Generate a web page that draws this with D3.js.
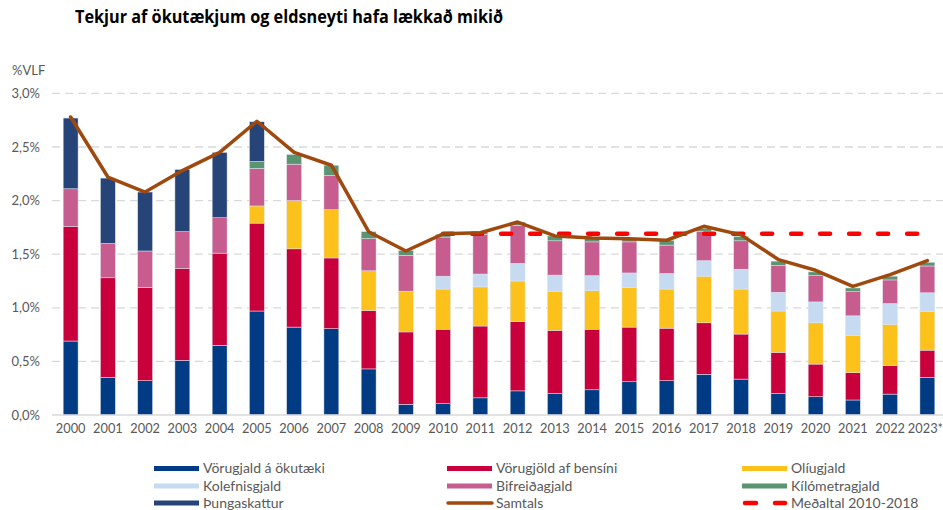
<!DOCTYPE html>
<html>
<head>
<meta charset="utf-8">
<script src="https://cdn.jsdelivr.net/npm/d3@7"></script>
<style>
  html, body { margin: 0; padding: 0; background: #fff; }
  svg { display: block; font-family: Lato, "Open Sans", sans-serif; }
</style>
</head>
<body>
<svg id="chart" width="943" height="510"></svg>
<script>
const years = ["2000","2001","2002","2003","2004","2005","2006","2007","2008","2009","2010","2011","2012","2013","2014","2015","2016","2017","2018","2019","2020","2021","2022","2023*"];
const vorugjaldOkutaeki = [0.69,0.35,0.32,0.51,0.65,0.97,0.82,0.805,0.43,0.10,0.105,0.16,0.225,0.20,0.235,0.31,0.32,0.38,0.335,0.20,0.17,0.14,0.195,0.35];
const vorugjoldBensini  = [1.07,0.93,0.87,0.855,0.86,0.82,0.73,0.66,0.545,0.675,0.695,0.67,0.645,0.59,0.565,0.51,0.49,0.48,0.42,0.385,0.305,0.255,0.265,0.255];
const oliugjald         = [0,0,0,0,0,0.16,0.45,0.45,0.37,0.38,0.375,0.365,0.38,0.36,0.36,0.37,0.365,0.435,0.42,0.385,0.385,0.345,0.385,0.36];
const kolefnisgjald     = [0,0,0,0,0,0,0,0,0,0,0.12,0.12,0.165,0.155,0.14,0.135,0.145,0.145,0.185,0.175,0.195,0.185,0.195,0.175];
const bifreidagjald     = [0.35,0.32,0.34,0.345,0.33,0.35,0.34,0.32,0.30,0.335,0.365,0.37,0.355,0.32,0.315,0.29,0.265,0.275,0.265,0.25,0.245,0.225,0.22,0.25];
const kilometragjald    = [0,0,0,0,0,0.065,0.09,0.095,0.065,0.045,0.025,0.02,0.03,0.045,0.035,0.03,0.045,0.025,0.04,0.04,0.035,0.035,0.035,0.035];
const thungaskattur     = [0.66,0.61,0.55,0.58,0.61,0.37,0,0,0,0,0,0,0,0,0,0,0,0,0,0,0,0,0,0];
const samtals           = [2.78,2.22,2.08,2.28,2.45,2.74,2.45,2.33,1.71,1.53,1.69,1.70,1.80,1.67,1.65,1.645,1.63,1.76,1.68,1.45,1.35,1.20,1.31,1.44];
const medaltal = 1.69;
const medaltalFrom = "2010", medaltalTo = "2023*";
const yTicks = [0,0.5,1.0,1.5,2.0,2.5,3.0];

const seriesNames = ["Vörugjald á ökutæki","Vörugjöld af bensíni","Olíugjald","Kolefnisgjald","Bifreiðagjald","Kílómetragjald","Þungaskattur"];
const seriesData = [vorugjaldOkutaeki, vorugjoldBensini, oliugjald, kolefnisgjald, bifreidagjald, kilometragjald, thungaskattur];
const colors = ["#003b83","#c8003c","#fcc21b","#c6dbf2","#c65d8e","#5b9470","#264478"];

const svg = d3.select("#chart");
const x = d3.scaleBand().domain(years).range([52, 946]).paddingInner(0.6).paddingOuter(0.3);
const y = d3.scaleLinear().domain([0, 3]).range([415, 93.4]);

// title
svg.append("text").attr("x", 75).attr("y", 23)
  .attr("font-size", 17).attr("font-weight", 700).attr("fill", "#000")
  .attr("font-family", "'Open Sans', sans-serif")
  .attr("textLength", 428).attr("lengthAdjust", "spacingAndGlyphs")
  .text("Tekjur af ökutækjum og eldsneyti hafa lækkað mikið");

// unit
svg.append("text").attr("x", 12).attr("y", 75).attr("font-size", 13).attr("fill", "#595959").text("%VLF");

// gridlines
const fmt = v => d3.format(".1f")(v).replace(".", ",") + "%";
svg.append("g").selectAll("line").data(yTicks.filter(d => d > 0)).join("line")
  .attr("x1", 52).attr("x2", 943).attr("y1", d => y(d)).attr("y2", d => y(d))
  .attr("stroke", "#d9d9d9").attr("stroke-width", 1.3).attr("stroke-dasharray", "8,5");

// y axis labels
const yAxis = d3.axisLeft(y).tickValues(yTicks).tickFormat(fmt).tickSize(0).tickPadding(0);
const gy = svg.append("g").attr("transform", "translate(40,0)").call(yAxis);
gy.select(".domain").remove();
gy.selectAll("text").attr("font-size", 13).attr("fill", "#595959").attr("font-family", "Lato, sans-serif");

// stacked bars
const table = years.map((yr, i) => {
  const o = { year: yr };
  seriesNames.forEach((n, k) => o[n] = seriesData[k][i]);
  return o;
});
const stack = d3.stack().keys(seriesNames)(table);
svg.append("g").selectAll("g").data(stack).join("g")
  .attr("fill", (d, i) => colors[i])
  .selectAll("rect").data(d => d).join("rect")
  .attr("x", d => x(d.data.year)).attr("width", x.bandwidth())
  .attr("y", d => y(d[1])).attr("height", d => Math.max(0, y(d[0]) - y(d[1])))
  .attr("stroke", "#dfe6f0").attr("stroke-width", 0.5);

// baseline
svg.append("line").attr("x1", 52).attr("x2", 943).attr("y1", y(0)).attr("y2", y(0))
  .attr("stroke", "#d9d9d9").attr("stroke-width", 1.5);

// x axis
const xAxis = d3.axisBottom(x).tickSize(0).tickPadding(0);
const gx = svg.append("g").attr("transform", `translate(0,${y(0) + 9})`).call(xAxis);
gx.select(".domain").remove();
gx.selectAll("text").attr("font-size", 12.8).attr("fill", "#595959").attr("font-family", "Lato, sans-serif");
gx.selectAll(".tick").filter(d => d === years[years.length - 1]).select("text")
  .attr("text-anchor", "end").attr("x", 943 - (x(years[years.length - 1]) + x.bandwidth() / 2));

// average line
const cx = d => x(d) + x.bandwidth() / 2;
svg.append("line")
  .attr("x1", cx(medaltalFrom)).attr("x2", cx(medaltalTo))
  .attr("y1", y(medaltal)).attr("y2", y(medaltal))
  .attr("stroke", "#ff0000").attr("stroke-width", 4.5).attr("stroke-linecap", "round")
  .attr("stroke-dasharray", "10,19");

// total line
const line = d3.line().x((d, i) => cx(years[i])).y(d => y(d));
svg.append("path").datum(samtals).attr("d", line)
  .attr("fill", "none").attr("stroke", "#a0490e").attr("stroke-width", 3.5)
  .attr("stroke-linejoin", "round").attr("stroke-linecap", "round");

// legend
const legendItems = [
  { name: "Vörugjald á ökutæki", type: "rect", color: colors[0], col: 0, row: 0 },
  { name: "Vörugjöld af bensíni", type: "rect", color: colors[1], col: 1, row: 0 },
  { name: "Olíugjald", type: "rect", color: colors[2], col: 2, row: 0 },
  { name: "Kolefnisgjald", type: "rect", color: colors[3], col: 0, row: 1 },
  { name: "Bifreiðagjald", type: "rect", color: colors[4], col: 1, row: 1 },
  { name: "Kílómetragjald", type: "rect", color: colors[5], col: 2, row: 1 },
  { name: "Þungaskattur", type: "rect", color: colors[6], col: 0, row: 2 },
  { name: "Samtals", type: "line", color: "#a0490e", col: 1, row: 2 },
  { name: "Meðaltal 2010-2018", type: "dash", color: "#ff0000", col: 2, row: 2 }
];
const colX = [154, 447, 742];
const rowY = [468.5, 486, 503];
const lg = svg.append("g").selectAll("g").data(legendItems).join("g")
  .attr("transform", d => `translate(${colX[d.col]},${rowY[d.row]})`);
lg.filter(d => d.type === "rect").append("rect")
  .attr("x", 0).attr("y", -2.5).attr("width", 45).attr("height", 5).attr("fill", d => d.color);
lg.filter(d => d.type === "line").append("line")
  .attr("x1", 1).attr("x2", 45).attr("y1", 0).attr("y2", 0)
  .attr("stroke", d => d.color).attr("stroke-width", 3.5).attr("stroke-linecap", "round");
lg.filter(d => d.type === "dash").append("line")
  .attr("x1", 3).attr("x2", 43).attr("y1", 0).attr("y2", 0)
  .attr("stroke", d => d.color).attr("stroke-width", 4.5).attr("stroke-linecap", "round")
  .attr("stroke-dasharray", "11,19");
lg.append("text").attr("x", 49).attr("y", 0).attr("dy", "0.35em")
  .attr("font-size", 14).attr("fill", "#595959").text(d => d.name);
</script>
</body>
</html>
